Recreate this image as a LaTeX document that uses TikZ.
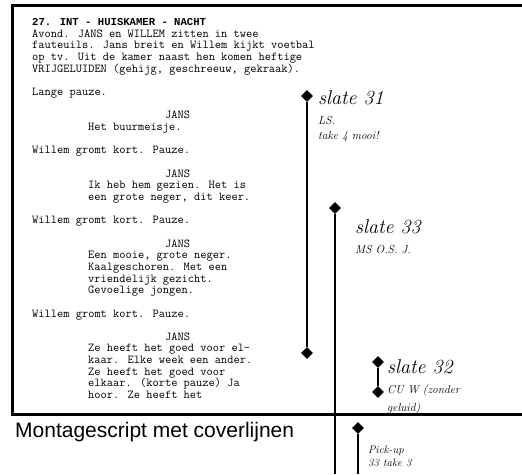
\documentclass[tikz,border=0pt]{standalone}
\usepackage{fontspec}
\newfontfamily\titlefont{Liberation Sans}
\newfontfamily\headfont{Liberation Mono}
\usetikzlibrary{shapes.geometric}

\begin{document}
\begin{tikzpicture}[x=1pt, y=-1pt,
    txt/.style={anchor=base west, inner sep=0, align=left, font=\ttfamily\fontsize{12.1}{11.66}\selectfont},
    hand/.style={anchor=base west, inner sep=0, font=\itshape\fontsize{20}{24}\selectfont},
    note/.style={anchor=base west, inner sep=0, align=left, font=\itshape\fontsize{11.5}{15}\selectfont},
    pin/.style={diamond, fill, inner sep=0, minimum width=12pt, minimum height=12pt},
    coverline/.style={line width=2pt}]
    \useasboundingbox (0,0) rectangle (522,474);
    \draw[line width=3pt] (522,5.5) -- (12.5,5.5) -- (12.5,414) -- (522,414);

    \node[txt] (HD) at (32, 72.1) {{\headfont\bfseries\fontsize{10.6}{11.66}\selectfont 27. INT - HUISKAMER - NACHT}\\ Avond. JANS en WILLEM zitten in twee\\ fauteuils. Jans breit en Willem kijkt voetbal\\ op tv. Uit de kamer naast hen komen heftige\\ VRIJGELUIDEN (gehijg, geschreeuw, gekraak).};
    \node[txt] (LP) at (32, 95.5) {Lange pauze.};
    \node[txt] (J1) at (165, 118.8) {JANS};
    \node[txt] (D1) at (88, 130.4) {Het buurmeisje.};
    \node[txt] (W1) at (32, 153.8) {Willem gromt kort. Pauze.};
    \node[txt] (J2) at (165, 177.1) {JANS};
    \node[txt] (D2) at (88, 200.4) {Ik heb hem gezien. Het is\\ een grote neger, dit keer.};
    \node[txt] (W2) at (32, 223.7) {Willem gromt kort. Pauze.};
    \node[txt] (J3) at (165, 247) {JANS};
    \node[txt] (D3) at (88, 293.7) {Een mooie, grote neger.\\ Kaalgeschoren. Met een\\ vriendelijk gezicht.\\ Gevoelige jongen.};
    \node[txt] (W3) at (32, 317) {Willem gromt kort. Pauze.};
    \node[txt] (J4) at (165, 340.3) {JANS};
    \node[txt] (D4) at (88, 398.6) {Ze heeft het goed voor el-\\ kaar. Elke week een ander.\\ Ze heeft het goed voor\\ elkaar. (korte pauze) Ja\\ hoor. Ze heeft het};

    \node[anchor=base west, inner sep=0, font=\titlefont\fontsize{21}{24}\selectfont] (TT) at (15, 437.5) {Montagescript met coverlijnen};

    \node[pin] (P31) at (307, 96) {};
    \node[pin] (Q31) at (307, 353) {};
    \node[pin] (P33) at (335, 208) {};
    \coordinate (E33) at (335, 474);
    \node[pin] (P32) at (378, 362) {};
    \node[pin] (Q32) at (378, 392) {};
    \node[pin] (PU) at (358, 428) {};
    \coordinate (EPU) at (358, 474);

    \draw[coverline] (P31) -- (Q31);
    \draw[coverline] (P33) -- (E33);
    \draw[coverline] (P32) -- (Q32);
    \draw[coverline] (PU) -- (EPU);

    \node[hand] (S31) at (318, 104) {slate 31};
    \node[note] (T31) at (318, 139) {LS.\\ take 4 mooi!};
    \node[hand] (S33) at (355, 233) {slate 33};
    \node[note] (T33) at (355, 253) {MS O.S. J.};
    \node[hand] (S32) at (387, 373) {slate 32};
    \node[note, font=\itshape\fontsize{11.5}{18}\selectfont] (T32) at (387, 411) {CU W (zonder\\ geluid)};
    \node[note, font=\itshape\fontsize{11}{13}\selectfont] (TPU) at (368, 466) {Pick-up\\ 33 take 3};
\end{tikzpicture}
\end{document}
